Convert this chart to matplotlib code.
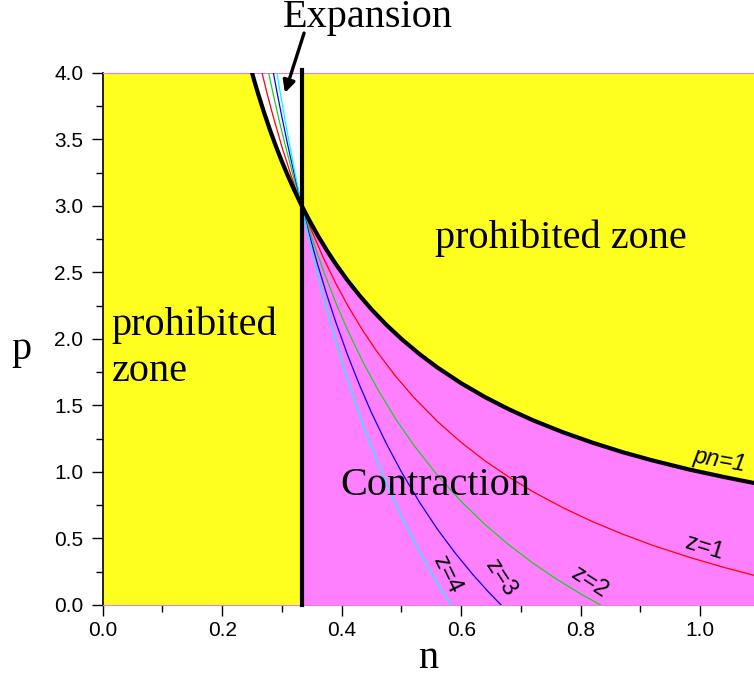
import matplotlib
matplotlib.use("Agg")
import matplotlib.pyplot as plt
from matplotlib.ticker import MultipleLocator

# values
# boundary pn = 1
pn_n = [0.25, 0.255, 0.26, 0.265, 0.27, 0.28, 0.29, 0.30, 0.31, 0.32, 0.3333, 0.345, 0.36,
        0.375, 0.39, 0.41, 0.43, 0.45, 0.475, 0.50, 0.53, 0.56, 0.60, 0.64, 0.68, 0.72, 0.77,
        0.82, 0.87, 0.92, 0.98, 1.04, 1.09]
pn_p = [4.0, 3.922, 3.846, 3.774, 3.704, 3.571, 3.448, 3.333, 3.226, 3.125, 3.0, 2.899, 2.778,
        2.667, 2.564, 2.439, 2.326, 2.222, 2.105, 2.0, 1.887, 1.786, 1.667, 1.5625, 1.471, 1.389,
        1.299, 1.220, 1.149, 1.087, 1.020, 0.962, 0.917]

z1_n = [0.2667, 0.275, 0.285, 0.30, 0.315, 0.3333, 0.35, 0.37, 0.39, 0.41, 0.435, 0.46, 0.49,
        0.52, 0.56, 0.60, 0.64, 0.68, 0.72, 0.77, 0.82, 0.87, 0.92, 0.98, 1.04, 1.09]
z1_p = [4.0, 3.848, 3.678, 3.444, 3.233, 3.0, 2.810, 2.604, 2.419, 2.252, 2.065, 1.899, 1.721,
        1.564, 1.381, 1.222, 1.083, 0.961, 0.852, 0.732, 0.626, 0.533, 0.449, 0.361, 0.282, 0.223]

z2_n = [0.2778, 0.285, 0.295, 0.305, 0.318, 0.3333, 0.35, 0.37, 0.39, 0.41, 0.435, 0.46, 0.49,
        0.52, 0.56, 0.60, 0.64, 0.68, 0.72, 0.76, 0.80, 0.8333]
z2_p = [4.0, 3.848, 3.650, 3.465, 3.241, 3.0, 2.762, 2.505, 2.274, 2.065, 1.831, 1.623, 1.401,
        1.205, 0.976, 0.778, 0.604, 0.451, 0.315, 0.193, 0.083, 0.0]

z3_n = [0.2857, 0.292, 0.30, 0.31, 0.32, 0.3333, 0.345, 0.36, 0.375, 0.39, 0.41, 0.43, 0.45,
        0.475, 0.50, 0.53, 0.56, 0.59, 0.62, 0.645, 0.6667]
z3_p = [4.0, 3.849, 3.667, 3.452, 3.25, 3.0, 2.797, 2.556, 2.333, 2.128, 1.878, 1.651, 1.444,
        1.211, 1.0, 0.774, 0.571, 0.390, 0.226, 0.101, 0.0]

z4_n = [0.2917, 0.297, 0.305, 0.3125, 0.322, 0.3333, 0.343, 0.355, 0.37, 0.385, 0.40, 0.42,
        0.44, 0.46, 0.48, 0.50, 0.525, 0.55, 0.565, 0.5833]
z4_p = [4.0, 3.856, 3.650, 3.467, 3.246, 3.0, 2.803, 2.573, 2.306, 2.061, 1.833, 1.556,
        1.303, 1.072, 0.861, 0.667, 0.444, 0.242, 0.130, 0.0]

n_crit = 0.3333
n_max = 1.09
p_max = 4.0

yellow = "#ffff1f"
magenta = "#ff80ff"
serif = "Liberation Serif"
sans = "Liberation Sans"

fig = plt.figure(figsize=(7.54, 6.77), dpi=100)
ax = fig.add_axes([0.1362, 0.1064, 0.8638, 0.7858])
ax.set_facecolor(yellow)
ax.set_xlim(0, n_max)
ax.set_ylim(0, p_max)

# contraction region: right of n_crit, below pn=1
k = pn_n.index(n_crit)
ax.fill_between(pn_n[k:], 0, pn_p[k:], color=magenta, lw=0, zorder=1)
# expansion region: between pn=1 and n_crit, above p=3
ax.fill(pn_n[:k + 1] + [n_crit], pn_p[:k + 1] + [p_max], color="white", lw=0, zorder=1)

ax.plot(z1_n, z1_p, color="red", lw=0.9, zorder=3)
ax.plot(z2_n, z2_p, color="#22cc22", lw=0.9, zorder=3)
ax.plot(z3_n, z3_p, color="blue", lw=0.9, zorder=3)
ax.plot(z4_n, z4_p, color="cyan", lw=0.9, zorder=3)
ax.plot(pn_n, pn_p, color="black", lw=3, zorder=4)
ax.plot([n_crit, n_crit], [0, p_max + 0.02], color="black", lw=3, zorder=4, clip_on=False)

big = dict(fontsize=29, family=serif)
ax.text(0.767, 2.76, "prohibited zone", ha="center", va="center", **big)
ax.text(0.015, 1.93, "prohibited\nzone", ha="left", va="center", linespacing=1.3, **big)
ax.text(0.556, 0.90, "Contraction", ha="center", va="center", **big)
ax.text(0.443, 4.42, "Expansion", ha="center", va="center", clip_on=False, **big)
ax.annotate("", xy=(0.305, 3.85), xytext=(0.337, 4.30), annotation_clip=False,
            arrowprops=dict(arrowstyle="-|>", color="black", lw=2.4, shrinkA=0, shrinkB=0,
                            mutation_scale=18))

lab = dict(fontsize=17, family=sans, ha="center", va="center")
ax.text(1.033, 1.09, "pn=1", rotation=-10, style="italic", **lab)
ax.text(1.007, 0.43, "z=1", rotation=-17, **lab)
ax.text(0.815, 0.17, "z=2", rotation=-33, **lab)
ax.text(0.665, 0.20, "z=3", rotation=-57, **lab)
ax.text(0.576, 0.225, "z=4", rotation=-64, **lab)

ax.set_xlabel("n", fontsize=29, family=serif, labelpad=0)
ax.set_ylabel("p", fontsize=29, family=serif, rotation=0, va="center")
ax.yaxis.set_label_coords(-0.125, 0.48)

ax.xaxis.set_major_locator(MultipleLocator(0.2))
ax.xaxis.set_minor_locator(MultipleLocator(0.1))
ax.yaxis.set_major_locator(MultipleLocator(0.5))
ax.yaxis.set_minor_locator(MultipleLocator(0.25))
ax.tick_params(which="major", length=8, width=1, labelsize=15)
ax.tick_params(axis="y", which="major", pad=6)
ax.tick_params(which="minor", length=5, width=1)
ax.set_xticklabels([f"{v:.1f}" for v in ax.get_xticks()])
ax.set_yticklabels([f"{v:.1f}" for v in ax.get_yticks()])
for t in ax.get_xticklabels() + ax.get_yticklabels():
    t.set_family(sans)

ax.spines["right"].set_visible(False)
ax.spines["top"].set_color("#e080e0")
ax.spines["bottom"].set_color("#e080e0")
ax.spines["left"].set_color("black")
ax.spines["left"].set_linewidth(1.2)

fig.savefig("out.png", dpi=100)
